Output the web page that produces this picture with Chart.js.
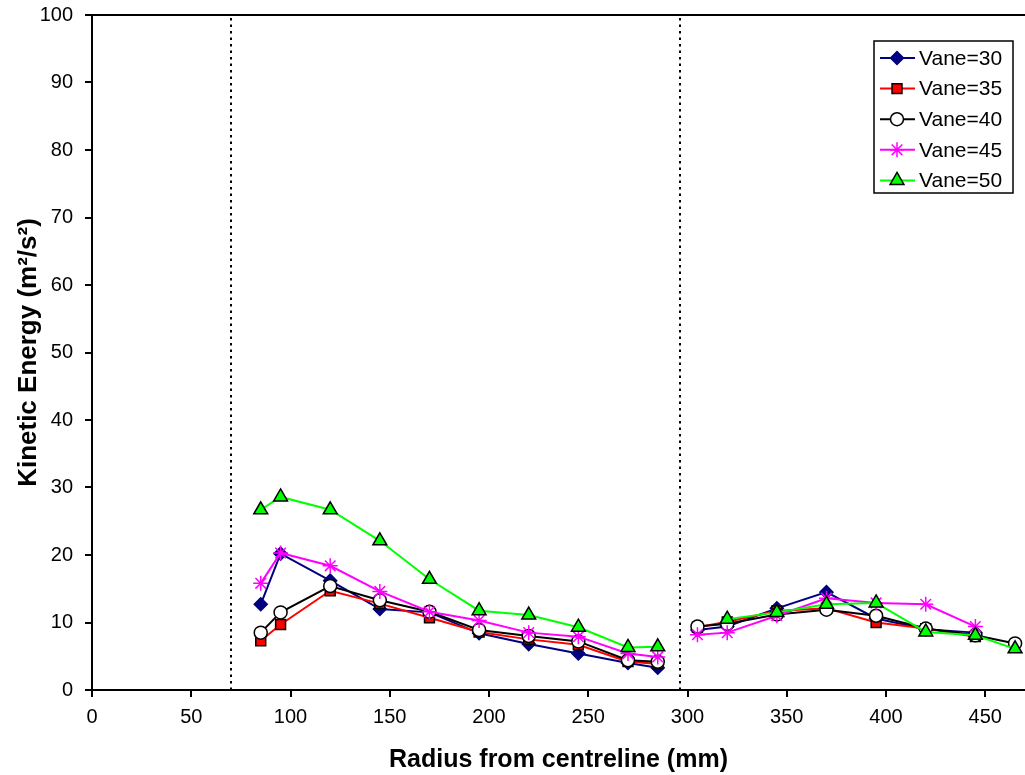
<!DOCTYPE html>
<html>
<head>
<meta charset="utf-8">
<script src="https://cdn.jsdelivr.net/npm/chart.js@4.4.1/dist/chart.umd.min.js"></script>
<style>
html,body{margin:0;padding:0;background:#fff;}
#wrap{width:1025px;height:775px;}
</style>
</head>
<body>
<div id="wrap"><canvas id="c" width="1025" height="775"></canvas></div>
<script>
// ---- data ----
const radiusLeft  = [85, 95, 120, 145, 170, 195, 220, 245, 270, 285];
const radiusRight = [305, 320, 345, 370, 395, 420, 445, 465];

const vane30Left  = [12.7, 20.2, 16.2, 12.0, 11.5, 8.4, 6.8, 5.4, 4.0, 3.3];
const vane30Right = [8.9, 9.4, 12.1, 14.5, 10.6, 9.0, 8.5, null];
const vane35Left  = [7.3, 9.7, 14.7, 12.8, 10.7, 8.6, 7.5, 6.7, 4.2, 3.9];
const vane35Right = [9.3, 10.1, 11.7, 12.1, 10.0, 9.1, 7.9, null];
const vane40Left  = [8.5, 11.5, 15.4, 13.3, 11.6, 8.9, 8.0, 7.2, 4.4, 4.2];
const vane40Right = [9.4, 9.8, 11.2, 11.9, 11.0, 9.1, 8.1, 6.9];
const vane45Left  = [15.8, 20.3, 18.4, 14.6, 11.6, 10.3, 8.5, 7.9, 5.4, 4.9];
const vane45Right = [8.2, 8.5, 11.0, 13.6, 12.9, 12.7, 9.4, null];
const vane50Left  = [26.7, 28.6, 26.7, 22.1, 16.4, 11.75, 11.1, 9.3, 6.3, 6.4];
const vane50Right = [null, 10.5, 11.5, 12.7, 12.9, 8.6, 8.1, 6.1];

const seriesLabels = ['Vane=30', 'Vane=35', 'Vane=40', 'Vane=45', 'Vane=50'];
const xTicks = [0, 50, 100, 150, 200, 250, 300, 350, 400, 450];
const dividerLines = [70, 296];
const yTickStep = 10;

// ---- build ----
function build(left, right) {
  const pts = radiusLeft.map((r, i) => ({x: r, y: left[i]}));
  pts.push({x: (radiusLeft[radiusLeft.length-1] + radiusRight[0]) / 2, y: null});
  radiusRight.forEach((r, i) => pts.push({x: r, y: right[i]}));
  return pts;
}

const styles = [
  {line:'#000080', pointStyle:'rectRot', radius:6.5, bg:'#000080', bd:'#000080'},
  {line:'#ff0000', pointStyle:'rect',    radius:7,   bg:'#ff0000', bd:'#000000'},
  {line:'#000000', pointStyle:'circle',  radius:6.5, bg:'#ffffff', bd:'#000000'},
  {line:'#ff00ff', pointStyle:'star',    radius:7.5, bg:'#ff00ff', bd:'#ff00ff'},
  {line:'#00ff00', pointStyle:'triangle',radius:8,   bg:'#00ff00', bd:'#000000'}
];
const values = [
  [vane30Left, vane30Right], [vane35Left, vane35Right], [vane40Left, vane40Right],
  [vane45Left, vane45Right], [vane50Left, vane50Right]
];

const datasets = values.map((v, i) => ({
  label: seriesLabels[i],
  data: build(v[0], v[1]),
  borderColor: styles[i].line,
  borderWidth: 2,
  pointStyle: styles[i].pointStyle,
  pointRadius: styles[i].radius,
  pointBackgroundColor: styles[i].bg,
  pointBorderColor: styles[i].bd,
  pointBorderWidth: 1.5,
  fill: false,
  tension: 0,
  order: 4 - i
}));

const FONT = "'Liberation Sans', Arial, sans-serif";

const framePlugin = {
  id: 'frame',
  beforeDatasetsDraw(chart) {
    const {ctx, chartArea: a, scales} = chart;
    ctx.save();
    ctx.strokeStyle = '#000';
    ctx.lineWidth = 2;
    ctx.setLineDash([2.5, 4]);
    dividerLines.forEach(v => {
      const x = Math.round(scales.x.getPixelForValue(v));
      ctx.beginPath();
      ctx.moveTo(x, a.bottom);
      ctx.lineTo(x, a.top);
      ctx.stroke();
    });
    ctx.setLineDash([]);
    ctx.lineWidth = 2;
    ctx.beginPath();
    ctx.moveTo(a.left, a.top);
    ctx.lineTo(1025, a.top);
    ctx.stroke();
    ctx.restore();
  },
  afterDraw(chart) {
    const {ctx} = chart;
    ctx.save();
    const bx = 874, by = 41, bw = 139, bh = 152;
    ctx.fillStyle = '#fff';
    ctx.fillRect(bx, by, bw, bh);
    ctx.strokeStyle = '#000';
    ctx.lineWidth = 1.5;
    ctx.strokeRect(bx, by, bw, bh);
    ctx.font = "21px " + FONT;
    ctx.textBaseline = 'middle';
    ctx.fillStyle = '#000';
    chart.data.datasets.forEach((ds, i) => {
      const y = 58 + i * 30.6;
      ctx.strokeStyle = ds.borderColor;
      ctx.lineWidth = 2;
      ctx.beginPath();
      ctx.moveTo(880, y);
      ctx.lineTo(915, y);
      ctx.stroke();
      ctx.fillStyle = ds.pointBackgroundColor;
      ctx.strokeStyle = ds.pointBorderColor;
      ctx.lineWidth = 1.5;
      Chart.helpers.drawPoint(ctx, {pointStyle: ds.pointStyle, radius: ds.pointRadius, rotation: 0, borderWidth: 1.5}, 897, y);
      ctx.fillStyle = '#000';
      ctx.fillText(ds.label, 919, y + 1);
    });
    ctx.restore();
  }
};

new Chart(document.getElementById('c'), {
  type: 'line',
  data: {datasets},
  plugins: [framePlugin],
  options: {
    responsive: false,
    animation: false,
    devicePixelRatio: 1,
    layout: {autoPadding: false, padding: {top: 15, right: 0, left: 0, bottom: 0}},
    plugins: {legend: {display: false}, tooltip: {enabled: false}},
    scales: {
      x: {
        type: 'linear',
        min: 0, max: 470,
        afterBuildTicks(scale) {
          scale.ticks = xTicks.map(v => ({value: v}));
        },
        ticks: {color: '#000', font: {family: FONT, size: 20}, padding: 8, maxRotation: 0, autoSkip: false},
        grid: {display: true, drawOnChartArea: false, drawTicks: true, tickLength: 7, color: '#000', lineWidth: 2},
        border: {display: true, color: '#000', width: 2},
        title: {display: true, text: 'Radius from centreline (mm)', color: '#000', font: {family: FONT, size: 25, weight: 'bold'}, padding: {top: 8, bottom: 0}},
        afterFit(scale) {
          scale.height = 775 - 690;
          scale.paddingLeft = 0; scale.paddingRight = 0;
        }
      },
      y: {
        type: 'linear',
        min: 0, max: 100,
        ticks: {stepSize: yTickStep, color: '#000', font: {family: FONT, size: 20}, padding: 12},
        grid: {display: true, drawOnChartArea: false, drawTicks: true, tickLength: 7, color: '#000', lineWidth: 2},
        border: {display: true, color: '#000', width: 2},
        title: {display: true, text: 'Kinetic Energy (m²/s²)', color: '#000', font: {family: FONT, size: 26, weight: 'bold'}, padding: {top: 13, bottom: 0}},
        afterFit(scale) {
          scale.width = 92;
          scale.paddingTop = 0; scale.paddingBottom = 0;
        }
      }
    }
  }
});
</script>
</body>
</html>
